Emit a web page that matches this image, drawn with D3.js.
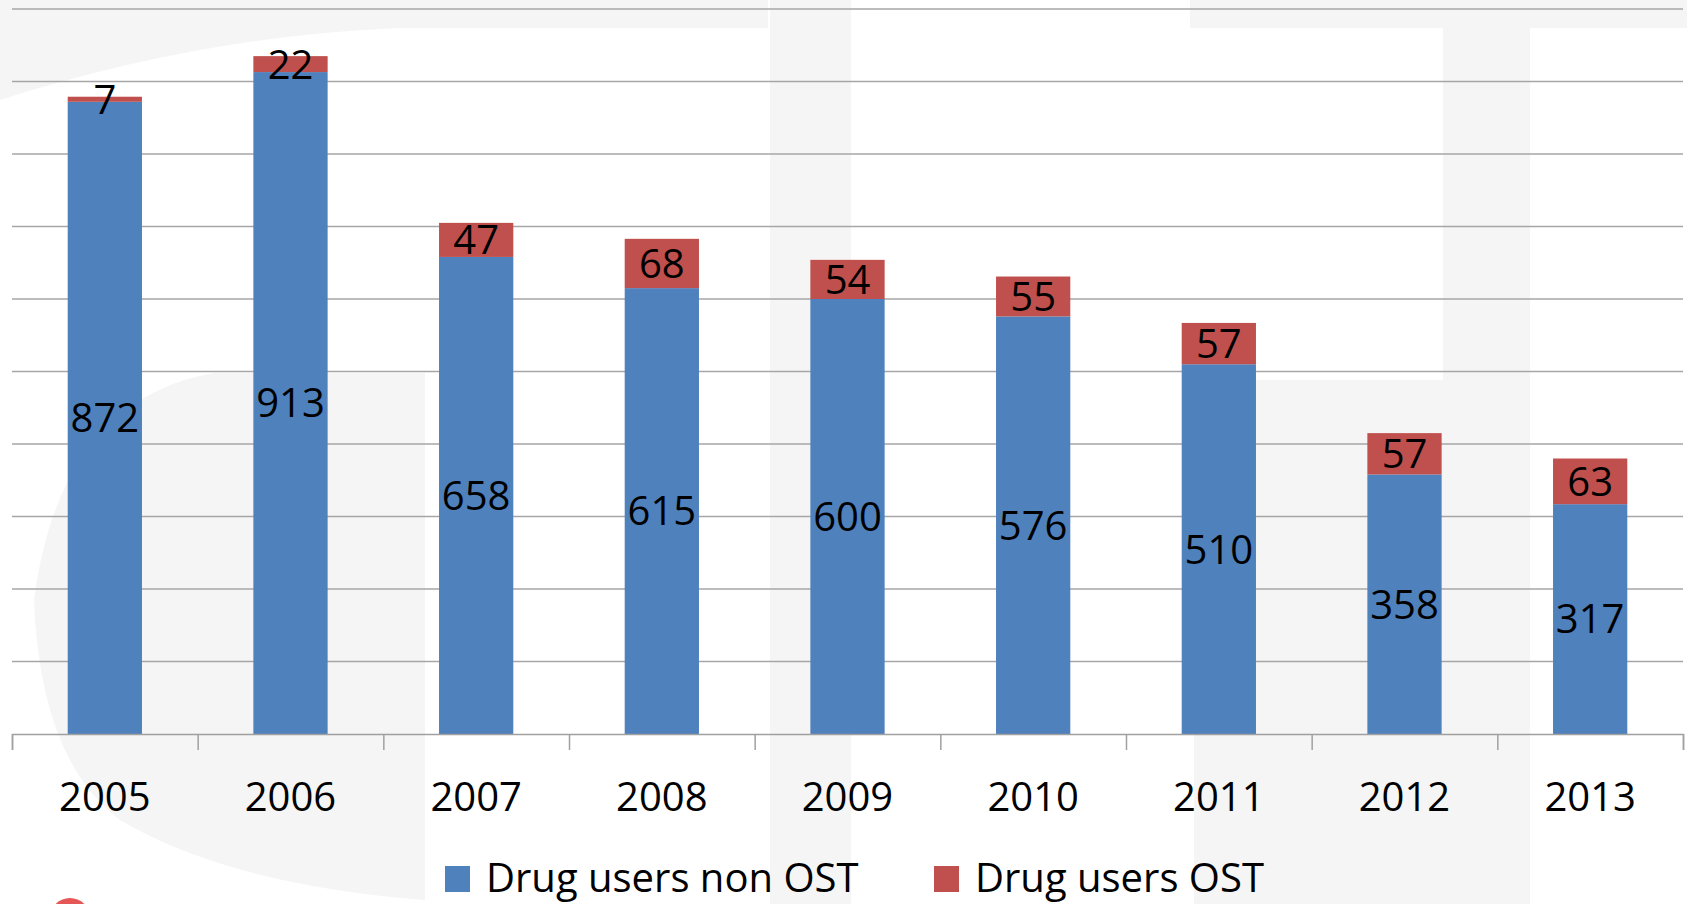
<!DOCTYPE html>
<html>
<head>
<meta charset="utf-8">
<script src="https://cdn.jsdelivr.net/npm/d3@7"></script>
<style>
  body { margin: 0; background: #fff; }
  svg text { font-family: "Open Sans", sans-serif; }
</style>
</head>
<body>
<svg id="chart" width="1687" height="904"></svg>
<script>
var years = ["2005", "2006", "2007", "2008", "2009", "2010", "2011", "2012", "2013"];
var nonOST = [872, 913, 658, 615, 600, 576, 510, 358, 317];
var ost = [7, 22, 47, 68, 54, 55, 57, 57, 63];
var gridValues = [100, 200, 300, 400, 500, 600, 700, 800, 900, 1000];
var seriesNames = ["Drug users non OST", "Drug users OST"];
var colors = ["#4F81BD", "#C0504D"];

var svg = d3.select("#chart");

// faint watermark in the background
var wm = svg.append("g").attr("fill", "#f5f5f5");
wm.append("path").attr("d", "M0,0 L768,0 L768,28 L400,28 Q200,36 0,100 Z");
wm.append("path").attr("d", "M425,373 L214,373 Q60,400 34,600 Q40,760 120,820 Q230,885 425,900 L425,904 L425,373 Z");
wm.append("rect").attr("x", 1190).attr("y", 0).attr("width", 497).attr("height", 28);
wm.append("rect").attr("x", 770).attr("y", 0).attr("width", 81).attr("height", 904);
wm.append("rect").attr("x", 1443).attr("y", 0).attr("width", 87).attr("height", 904);
wm.append("rect").attr("x", 1194).attr("y", 380).attr("width", 336).attr("height", 524);
svg.append("circle").attr("cx", 70).attr("cy", 918).attr("r", 20)
  .attr("fill", "#e03a3a").attr("opacity", 0.85);

var plotLeft = 12, plotRight = 1683, plotTop = 9, plotBottom = 734;

var x = d3.scaleBand().domain(years).range([plotLeft, plotRight])
  .paddingInner(0.6).paddingOuter(0.3);
var xb = d3.scaleLinear().domain([0, years.length]).range([plotLeft, plotRight]);
var y = d3.scaleLinear().domain([0, 1000]).range([plotBottom, plotTop]);

// gridlines
svg.append("g").selectAll("line")
  .data(gridValues)
  .enter().append("line")
  .attr("x1", plotLeft).attr("x2", plotRight)
  .attr("y1", function(d) { return y(d); })
  .attr("y2", function(d) { return y(d); })
  .attr("stroke", "#a6a6a6").attr("stroke-width", 1.5);

var rows = years.map(function(yr, i) {
  return { year: yr, a: nonOST[i], b: ost[i] };
});
var layers = d3.stack().keys(["a", "b"])(rows);

var layer = svg.append("g").selectAll("g")
  .data(layers)
  .enter().append("g")
  .attr("fill", function(d, i) { return colors[i]; });

layer.selectAll("rect")
  .data(function(d) { return d; })
  .enter().append("rect")
  .attr("x", function(d) { return x(d.data.year); })
  .attr("width", x.bandwidth())
  .attr("y", function(d) { return y(d[1]); })
  .attr("height", function(d) { return y(d[0]) - y(d[1]); });

// data labels in the middle of each segment
layers.forEach(function(l) {
  svg.append("g").selectAll("text")
    .data(l)
    .enter().append("text")
    .attr("x", function(d) { return x(d.data.year) + x.bandwidth() / 2; })
    .attr("y", function(d) { return (y(d[0]) + y(d[1])) / 2; })
    .attr("dy", "0.36em")
    .attr("text-anchor", "middle")
    .attr("font-size", 40)
    .attr("fill", "#000")
    .text(function(d) { return d[1] - d[0]; });
});

// x axis: line and category boundary ticks
var axis = svg.append("g")
  .attr("transform", "translate(0," + plotBottom + ")")
  .call(d3.axisBottom(xb).ticks(years.length).tickSize(16).tickSizeOuter(16).tickFormat(""));
axis.selectAll("path, line").attr("stroke", "#a0a0a0").attr("stroke-width", 1.5);

svg.append("g").selectAll("text")
  .data(years)
  .enter().append("text")
  .attr("x", function(d) { return x(d) + x.bandwidth() / 2; })
  .attr("y", 811)
  .attr("text-anchor", "middle")
  .attr("font-size", 40)
  .attr("fill", "#000")
  .text(function(d) { return d; });

// legend
var legendX = [445, 934];
var legend = svg.append("g").selectAll("g")
  .data(seriesNames)
  .enter().append("g")
  .attr("transform", function(d, i) { return "translate(" + legendX[i] + ",0)"; });
legend.append("rect")
  .attr("x", 0).attr("y", 866).attr("width", 25).attr("height", 26)
  .attr("fill", function(d, i) { return colors[i]; });
legend.append("text")
  .attr("x", 41).attr("y", 892)
  .attr("font-size", 40)
  .attr("fill", "#000")
  .text(function(d) { return d; });
</script>
</body>
</html>
